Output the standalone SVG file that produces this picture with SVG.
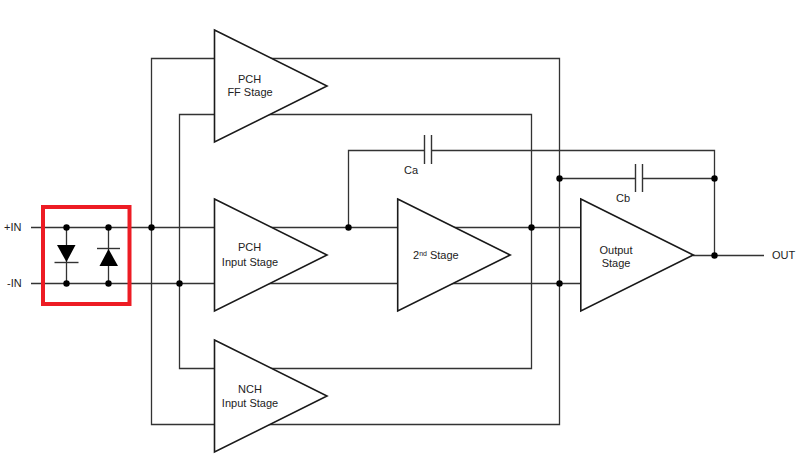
<svg xmlns="http://www.w3.org/2000/svg" width="800" height="474" viewBox="0 0 800 474">
  <style>
    .wire { fill: none; stroke: #333; stroke-width: 1.3; }
    .amp { fill: #fff; stroke: #1a1a1a; stroke-width: 1.6; stroke-linejoin: miter; }
    .dot { fill: #000; }
    .plate { fill: none; stroke: #333; stroke-width: 1.4; }
    .diode { fill: #000; }
    text { font-family: "Liberation Sans", Arial, sans-serif; font-size: 11px; fill: #222; }
    .mid { text-anchor: middle; }
    .sup { font-size: 7px; }
    .frame { fill: none; stroke: #ed1c24; stroke-width: 4; }
  </style>
  <defs>
    <circle id="junction" class="dot" r="3.2"/>
    <polygon id="amp-shape" class="amp" points="0,0 112.500,56 0,112"/>
  </defs>
  <rect width="800" height="474" fill="#fff"/>

  <!-- Wiring: input rails, bias loops and compensation paths -->
  <g id="connectors">
    <path class="wire" d="M31 227.500H581"/>
    <path class="wire" d="M31 283.500H581"/>
    <path class="wire" d="M214 58.500H559.500V424.500H151.500V58.500H214"/>
    <path class="wire" d="M214 114.500H531.500V368.500H179.500V114.500H214"/>
    <path class="wire" d="M348.500 227.500V150.500H424.500M431.500 150.500H714.500V255.500"/>
    <path class="wire" d="M559.500 178.500H635.500M642.500 178.500H714.500"/>
    <path class="wire" d="M693 255.500H764"/>
    <path class="wire" d="M66.500 227.500V283.500M108.500 227.500V283.500"/>
    <path class="plate" d="M424.500 135V164M431.500 135V164"/>
    <path class="plate" d="M635.500 164V192M642.500 164V192"/>
    <use href="#junction" x="66.500" y="227.500"/>
    <use href="#junction" x="66.500" y="283.500"/>
    <use href="#junction" x="108.500" y="227.500"/>
    <use href="#junction" x="108.500" y="283.500"/>
    <use href="#junction" x="151.500" y="227.500"/>
    <use href="#junction" x="179.500" y="283.500"/>
    <use href="#junction" x="348.500" y="227.500"/>
    <use href="#junction" x="531.500" y="227.500"/>
    <use href="#junction" x="559.500" y="283.500"/>
    <use href="#junction" x="559.500" y="178.500"/>
    <use href="#junction" x="714.500" y="178.500"/>
    <use href="#junction" x="714.500" y="255.500"/>
  </g>

  <g id="diode-down">
    <polygon class="diode" points="57,245 75.500,245 66.500,262"/>
    <path class="plate" d="M54.500 262.500H78.500"/>
  </g>
  <g id="diode-up">
    <polygon class="diode" points="99.500,266 118,266 108.500,249"/>
    <path class="plate" d="M97 248.500H120"/>
  </g>

  <g id="pch-ff-stage">
    <use href="#amp-shape" x="214.500" y="30"/>
    <text class="mid" x="249.500" y="83">PCH</text>
    <text class="mid" x="250" y="96">FF Stage</text>
  </g>
  <g id="pch-input-stage">
    <use href="#amp-shape" x="214.500" y="199"/>
    <text class="mid" x="249.500" y="251">PCH</text>
    <text class="mid" x="250" y="266">Input Stage</text>
  </g>
  <g id="nch-input-stage">
    <use href="#amp-shape" x="214.500" y="340"/>
    <text class="mid" x="250" y="393">NCH</text>
    <text class="mid" x="250" y="407">Input Stage</text>
  </g>
  <g id="second-stage">
    <use href="#amp-shape" x="397.700" y="199"/>
    <text x="413" y="259">2<tspan class="sup" dy="-3.500">nd</tspan><tspan dy="3.500"> Stage</tspan></text>
  </g>
  <g id="output-stage">
    <use href="#amp-shape" x="580.800" y="199"/>
    <text class="mid" x="616" y="254">Output</text>
    <text class="mid" x="616" y="267">Stage</text>
  </g>

  <g id="labels">
    <text x="4" y="231">+IN</text>
    <text x="7" y="287">-IN</text>
    <text x="404" y="174">Ca</text>
    <text x="616" y="202">Cb</text>
    <text x="772" y="259">OUT</text>
  </g>

  <g id="highlight">
    <rect class="frame" x="43" y="207" width="86.500" height="97"/>
  </g>
</svg>
